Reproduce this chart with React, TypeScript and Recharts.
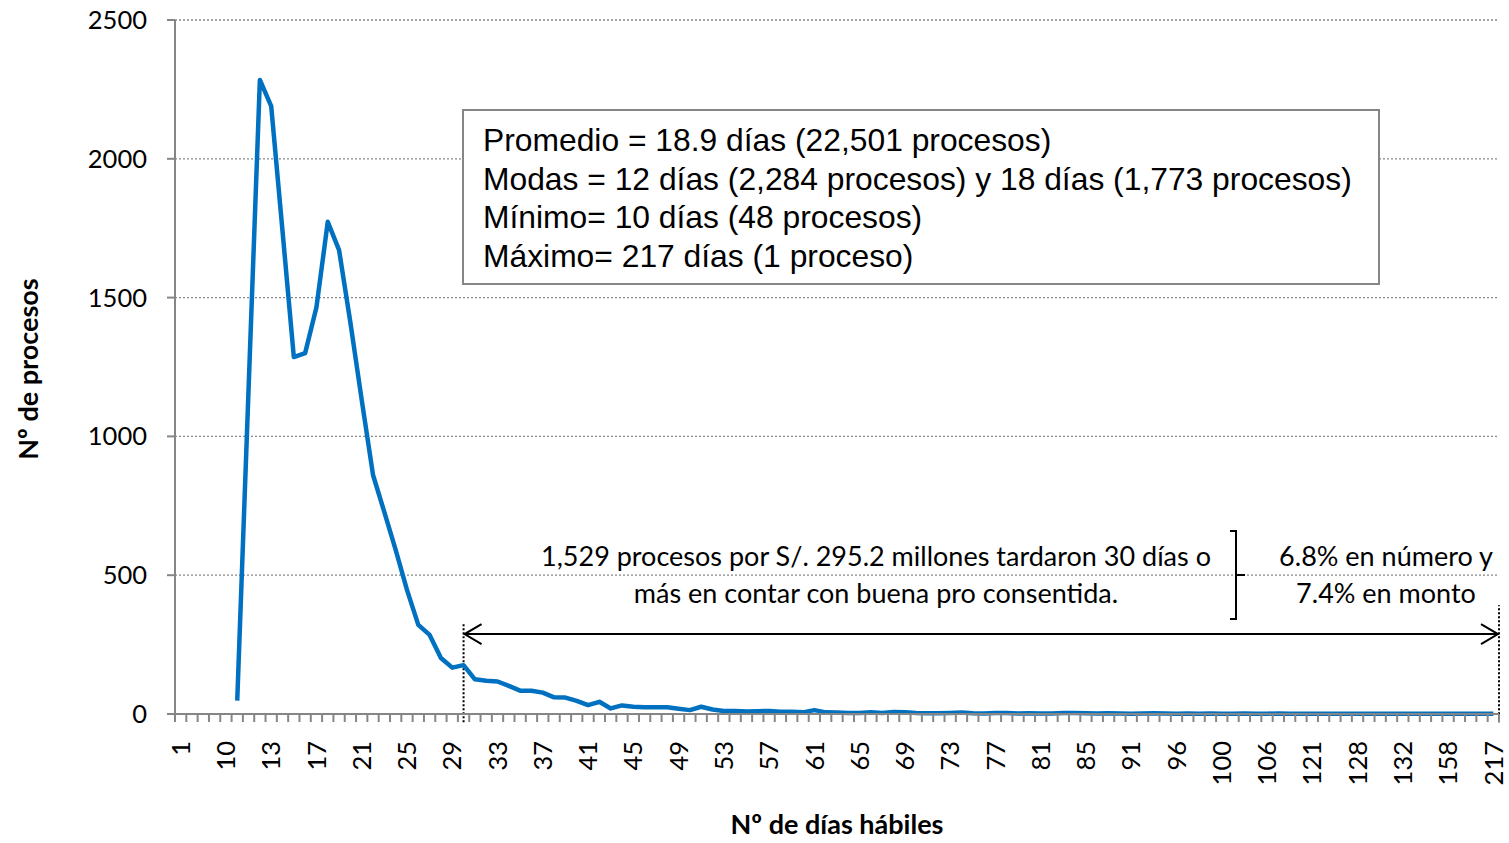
import React from 'react';
import {
  LineChart,
  Line,
  XAxis,
  YAxis,
  CartesianGrid,
  ReferenceLine,
} from 'recharts';

// categorías del eje X (nº de días hábiles), una por punto
const dias = [
  '1', '7', '8', '9', '10', '10', '11', '12', '13', '14', '15', '16', '17', '18', '19', '20',
  '21', '22', '23', '24', '25', '26', '27', '28', '29', '30', '31', '32', '33', '34', '35', '36',
  '37', '38', '39', '40', '41', '42', '43', '44', '45', '46', '47', '48', '49', '50', '51', '52',
  '53', '54', '55', '56', '57', '58', '59', '60', '61', '62', '63', '64', '65', '66', '67', '68',
  '69', '70', '71', '72', '73', '74', '75', '76', '77', '78', '79', '80', '81', '82', '83', '84',
  '85', '86', '87', '89', '91', '92', '93', '95', '96', '97', '98', '99', '100', '101', '103', '105',
  '106', '108', '112', '116', '121', '123', '125', '127', '128', '129', '130', '131', '132', '137', '142', '150',
  '158', '165', '180', '196', '217',
];

// nº de procesos por categoría
const procesos: (number | null)[] = [
  null, null, null, null, null, 48, 1170, 2284, 2190, 1740, 1286, 1300, 1465, 1773, 1671, 1410,
  1131, 861, 727, 591, 447, 321, 285, 202, 167, 176, 125, 120, 117, 101, 84, 84,
  77, 60, 59, 47, 32, 44, 20, 31, 26, 24, 24, 24, 19, 14, 26, 16,
  11, 11, 9, 10, 11, 8, 8, 6, 14, 6, 5, 4, 4, 6, 4, 7,
  6, 4, 3, 3, 4, 5, 3, 2, 4, 4, 2, 3, 2, 2, 4, 4,
  3, 2, 3, 2, 1, 2, 3, 2, 1, 2, 1, 2, 1, 1, 2, 1,
  1, 2, 1, 1, 1, 1, 1, 1, 1, 1, 1, 1, 1, 1, 1, 1,
  1, 1, 1, 1, 1,
];

const yTicks = [0, 500, 1000, 1500, 2000, 2500];

const resumen = [
  'Promedio = 18.9 días (22,501 procesos)',
  'Modas = 12 días (2,284 procesos) y 18 días (1,773 procesos)',
  'Mínimo= 10 días (48 procesos)',
  'Máximo= 217 días (1 proceso)',
];

const GRIS = '#868686';
const AZUL = '#0070C0';
const FUENTE = 'Lato, "Open Sans", sans-serif';

const data = dias.map((dia, i) => ({ x: i + 0.5, dia, procesos: procesos[i] }));

// marcas en los límites de cada categoría y etiquetas en el centro
const xTicks: number[] = [];
for (let i = 0; i <= dias.length; i++) {
  xTicks.push(i);
  if (i < dias.length) xTicks.push(i + 0.5);
}

const x30 = dias.indexOf('30') + 0.5;
const xFin = dias.length;

function DiaTick(props: any) {
  const { x, y, payload } = props;
  const v = payload.value;
  if (Number.isInteger(v)) {
    return <line x1={x} y1={y} x2={x} y2={y + 8} stroke={GRIS} strokeWidth={2} />;
  }
  const i = v - 0.5;
  if (i % 4 !== 0) return <g />;
  const ty = y + 27;
  return (
    <text
      x={x}
      y={ty}
      dy="0.36em"
      transform={`rotate(-90 ${x} ${ty})`}
      textAnchor="end"
      fontFamily={FUENTE}
      fontSize={25.5}
      fill="#000"
    >
      {dias[i]}
    </text>
  );
}

function Flecha(props: any) {
  const { x1, y1, x2 } = props;
  const a = Math.min(x1, x2);
  const b = Math.max(x1, x2);
  return (
    <g stroke="#000" strokeWidth={2} fill="none">
      <line x1={a} y1={y1} x2={b} y2={y1} />
      <polyline points={`${a + 18},${y1 - 10} ${a + 1},${y1} ${a + 18},${y1 + 10}`} />
      <polyline points={`${b - 18},${y1 - 10} ${b - 1},${y1} ${b - 18},${y1 + 10}`} />
    </g>
  );
}

export default function App() {
  return (
    <div style={{ position: 'absolute', left: 0, top: 0, width: 1509, height: 843, background: '#fff' }}>
      <LineChart width={1509} height={843} data={data} margin={{ top: 20, right: 10, left: 0, bottom: 0 }}>
        <CartesianGrid vertical={false} stroke={GRIS} strokeDasharray="2 2" strokeWidth={1.3} />
        <XAxis
          dataKey="x"
          type="number"
          domain={[0, dias.length]}
          ticks={xTicks}
          interval={0}
          tick={<DiaTick />}
          tickLine={false}
          tickSize={0}
          tickMargin={0}
          height={129}
          axisLine={{ stroke: GRIS, strokeWidth: 2 }}
        />
        <YAxis
          domain={[0, 2500]}
          ticks={yTicks}
          width={175}
          tickSize={8}
          tickMargin={20}
          axisLine={{ stroke: GRIS, strokeWidth: 2 }}
          tickLine={{ stroke: GRIS, strokeWidth: 2 }}
          tick={{ fontFamily: FUENTE, fontSize: 25.5, fill: '#000' }}
        />
        <ReferenceLine
          segment={[{ x: x30, y: -30 }, { x: x30, y: 330 }]}
          stroke="#000"
          strokeWidth={2}
          strokeDasharray="2 2"
          ifOverflow="visible"
        />
        <ReferenceLine
          segment={[{ x: xFin, y: -30 }, { x: xFin, y: 392 }]}
          stroke="#000"
          strokeWidth={2}
          strokeDasharray="2 2"
          ifOverflow="visible"
        />
        <ReferenceLine
          segment={[{ x: x30, y: 288 }, { x: xFin, y: 288 }]}
          ifOverflow="visible"
          shape={<Flecha />}
        />
        <Line
          type="linear"
          dataKey="procesos"
          stroke={AZUL}
          strokeWidth={4.5}
          strokeLinejoin="round"
          dot={false}
          activeDot={false}
          isAnimationActive={false}
        />
      </LineChart>

      <svg
        width={1509}
        height={843}
        style={{ position: 'absolute', left: 0, top: 0, pointerEvents: 'none' }}
      >
        <rect x={463} y={110} width={916} height={174} fill="#fff" stroke={GRIS} strokeWidth={2} />
        {resumen.map((t, i) => (
          <text
            key={i}
            x={483}
            y={151 + i * 38.5}
            fontFamily='"Liberation Sans", Arial, sans-serif'
            fontSize={31.8}
            fill="#000"
          >
            {t}
          </text>
        ))}

        <g fontFamily={FUENTE} fontSize={27} fill="#000" textAnchor="middle">
          <text x={876} y={566}>1,529 procesos por S/. 295.2 millones tardaron 30 días o</text>
          <text x={876} y={603}>más en contar con buena pro consentida.</text>
          <text x={1386} y={566}>6.8% en número y</text>
          <text x={1386} y={603}>7.4% en monto</text>
        </g>

        <g stroke="#000" strokeWidth={2} fill="none">
          <polyline points="1230,531 1236,531 1236,619 1230,619" />
          <line x1={1236} y1={575} x2={1245} y2={575} />
        </g>

        <text
          x={837}
          y={834}
          textAnchor="middle"
          fontFamily={FUENTE}
          fontWeight="bold"
          fontSize={27}
          fill="#000"
        >
          Nº de días hábiles
        </text>
        <text
          x={38}
          y={369}
          transform="rotate(-90 38 369)"
          textAnchor="middle"
          fontFamily={FUENTE}
          fontWeight="bold"
          fontSize={27}
          fill="#000"
        >
          Nº de procesos
        </text>
      </svg>
    </div>
  );
}
